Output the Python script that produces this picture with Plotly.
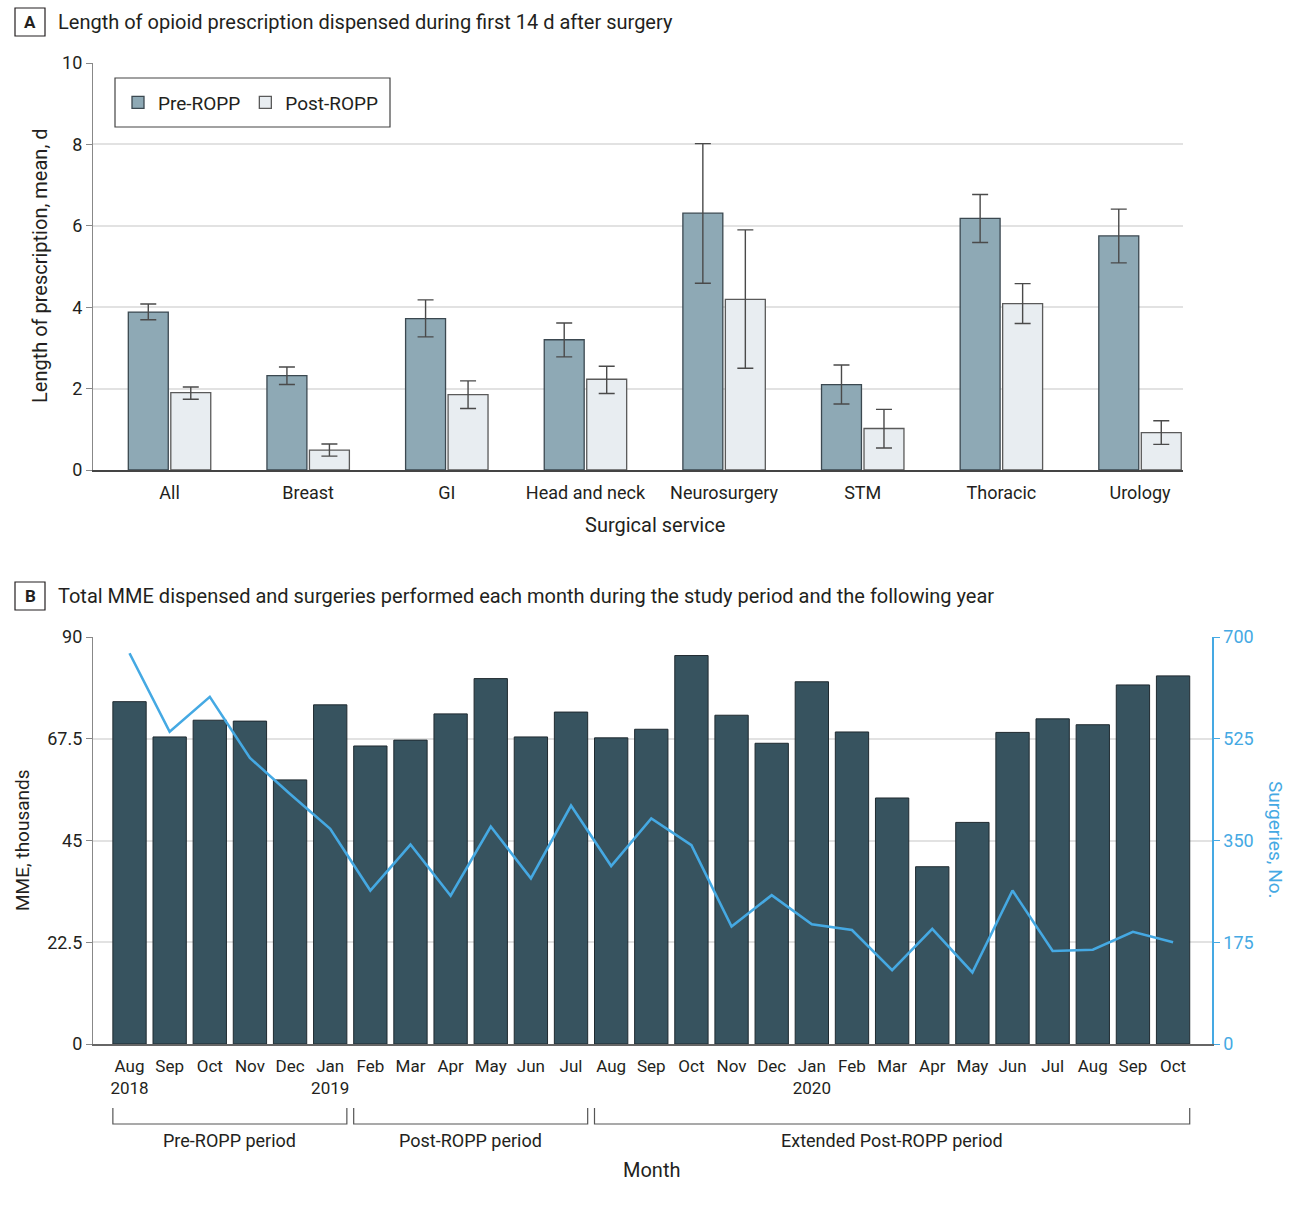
import plotly.graph_objects as go

# ---------------- Data ----------------
services = ["All", "Breast", "GI", "Head and neck", "Neurosurgery", "STM", "Thoracic", "Urology"]
pre_mean = [3.88, 2.32, 3.72, 3.20, 6.31, 2.10, 6.18, 5.75]
pre_lo = [3.69, 2.10, 3.27, 2.78, 4.59, 1.62, 5.59, 5.09]
pre_hi = [4.08, 2.53, 4.18, 3.61, 8.02, 2.58, 6.77, 6.41]
post_mean = [1.90, 0.49, 1.85, 2.23, 4.19, 1.02, 4.09, 0.92]
post_lo = [1.74, 0.34, 1.51, 1.88, 2.50, 0.54, 3.60, 0.63]
post_hi = [2.04, 0.64, 2.19, 2.55, 5.90, 1.49, 4.58, 1.21]

months = ["Aug", "Sep", "Oct", "Nov", "Dec", "Jan", "Feb", "Mar", "Apr", "May", "Jun", "Jul",
          "Aug", "Sep", "Oct", "Nov", "Dec", "Jan", "Feb", "Mar", "Apr", "May", "Jun", "Jul",
          "Aug", "Sep", "Oct"]
year_labels = {0: "2018", 5: "2019", 17: "2020"}
mme_thousands = [75.7, 67.9, 71.6, 71.4, 58.4, 75.0, 65.9, 67.2, 73.0, 80.8, 67.9, 73.4,
                 67.7, 69.6, 85.9, 72.7, 66.5, 80.1, 69.0, 54.4, 39.2, 49.0, 68.9, 71.9,
                 70.6, 79.4, 81.4]
surgeries = [672, 537, 597, 492, 430, 370, 264, 343, 255, 374, 285, 410,
             306, 388, 342, 202, 256, 206, 196, 127, 198, 123, 264, 160,
             162, 193, 175]
periods = [("Pre-ROPP period", 0, 5), ("Post-ROPP period", 6, 11),
           ("Extended Post-ROPP period", 12, 26)]

mme_ticks = [0, 22.5, 45, 67.5, 90]
surg_ticks = [0, 175, 350, 525, 700]

# ---------------- Styling ----------------
W, H = 1300, 1206
FONT = "Roboto, Liberation Sans, sans-serif"
TXT = "#231f20"
BLUE = "#45a9e3"
GRID = "#e2e2e2"


def px(x):
    return x / W


def py(y):
    return 1 - y / H


fig = go.Figure()

fig.add_bar(
    x=services, y=pre_mean, name="Pre-ROPP", xaxis="x", yaxis="y",
    marker=dict(color="#8ea9b5", line=dict(color="#3b4850", width=1.3)),
    error_y=dict(type="data", symmetric=False,
                 array=[h - m for h, m in zip(pre_hi, pre_mean)],
                 arrayminus=[m - l for m, l in zip(pre_mean, pre_lo)],
                 color="#4a4a4a", thickness=1.4, width=8),
)
fig.add_bar(
    x=services, y=post_mean, name="Post-ROPP", xaxis="x", yaxis="y",
    marker=dict(color="#e8edf1", line=dict(color="#5a5a5a", width=1.3)),
    error_y=dict(type="data", symmetric=False,
                 array=[h - m for h, m in zip(post_hi, post_mean)],
                 arrayminus=[m - l for m, l in zip(post_mean, post_lo)],
                 color="#4a4a4a", thickness=1.4, width=8),
)

xi = list(range(len(months)))
fig.add_bar(
    x=xi, y=mme_thousands, xaxis="x2", yaxis="y2", width=0.83, showlegend=False,
    marker=dict(color="#37535f", line=dict(color="#1f2a30", width=1)),
)
fig.add_scatter(
    x=xi, y=surgeries, xaxis="x2", yaxis="y3", mode="lines", showlegend=False,
    line=dict(color=BLUE, width=2.6),
)

ticktext = [m + ("<br>" + year_labels[i] if i in year_labels else "") for i, m in enumerate(months)]

annotations = []
shapes = []


def note(text, x, y, size=20, color=TXT, angle=0, xref="paper", xanchor="center"):
    annotations.append(dict(text=text, x=x, y=y, xref=xref, yref="paper", showarrow=False,
                            xanchor=xanchor, yanchor="middle", textangle=angle,
                            font=dict(size=size, color=color)))


# Panel labels & titles
for letter, y0, y1, title in [
    ("A", 8, 36, "Length of opioid prescription dispensed during first 14 d after surgery"),
    ("B", 582, 610, "Total MME dispensed and surgeries performed each month during the study period and the following year"),
]:
    shapes.append(dict(type="rect", xref="paper", yref="paper", x0=px(15), x1=px(45),
                       y0=py(y1), y1=py(y0), line=dict(color=TXT, width=1.2)))
    note("<b>" + letter + "</b>", px(30), py((y0 + y1) / 2), size=17)
    note(title, px(56), py((y0 + y1) / 2), size=20, xanchor="left")

note("Length of prescription, mean, d", px(40), py(266), size=20, angle=-90)
note("Surgical service", px(655), py(525), size=20)
note("MME, thousands", px(22), py(840), size=19, angle=-90)
note("Surgeries, No.", px(1276), py(840), size=19, color=BLUE, angle=90)
note("Month", px(652), py(1170), size=20)

# legend frame
shapes.append(dict(type="rect", xref="paper", yref="paper", x0=px(115), x1=px(390),
                   y0=py(127), y1=py(78), line=dict(color="#444", width=1.2), layer="above"))

half = 0.83 / 2
for name, a, b in periods:
    x0, x1 = a - half, b + half
    shapes.append(dict(type="path", xref="x2", yref="paper",
                       path=f"M {x0},{py(1108)} L {x0},{py(1124)} L {x1},{py(1124)} L {x1},{py(1108)}",
                       line=dict(color="#555", width=1.2)))
    note(name, (x0 + x1) / 2, py(1140), size=18, xref="x2")

fig.update_layout(
    width=W, height=H,
    margin=dict(l=0, r=0, t=0, b=0, autoexpand=False),
    paper_bgcolor="white", plot_bgcolor="white",
    font=dict(family=FONT, size=18, color=TXT),
    barmode="group", bargap=0.387, bargroupgap=0.06,
    showlegend=True,
    legend=dict(orientation="h", x=px(118), y=py(102.5), xanchor="left", yanchor="middle",
                borderwidth=0, bgcolor="rgba(0,0,0,0)",
                font=dict(size=19, color=TXT), itemwidth=30),
    xaxis=dict(domain=[px(93), px(1183)], anchor="y", range=[-0.552, 7.31], automargin=False,
               showline=True, linecolor="#444", linewidth=1.5, ticks="", showgrid=False,
               tickfont=dict(size=18), ticklabelstandoff=6),
    yaxis=dict(domain=[py(470), py(63)], anchor="x", range=[0, 10], dtick=2, automargin=False,
               showline=True, linecolor="#888", linewidth=1.2, ticks="outside", ticklen=6,
               tickcolor="#888", gridcolor=GRID, gridwidth=1.5, zeroline=False,
               tickfont=dict(size=18)),
    xaxis2=dict(domain=[px(93), px(1212)], anchor="y2", range=[-0.91, 26.97], automargin=False,
                tickmode="array", tickvals=xi, ticktext=ticktext, tickangle=0,
                showline=True, linecolor="#666", linewidth=1.5, ticks="", showgrid=False,
                tickfont=dict(size=17), ticklabelstandoff=6),
    yaxis2=dict(domain=[py(1044), py(637)], anchor="x2", range=[0, 90], automargin=False,
                tickmode="array", tickvals=mme_ticks, ticktext=[f"{t:g}" for t in mme_ticks],
                showline=True, linecolor="#888", linewidth=1.2, ticks="outside", ticklen=6,
                tickcolor="#888", gridcolor=GRID, gridwidth=1.5, zeroline=False,
                tickfont=dict(size=18)),
    yaxis3=dict(overlaying="y2", side="right", anchor="x2", range=[0, 700], automargin=False,
                tickmode="array", tickvals=surg_ticks, showgrid=False, zeroline=False,
                showline=True, linecolor=BLUE, linewidth=1.5, ticks="outside", ticklen=6,
                tickcolor=BLUE, tickfont=dict(size=18, color=BLUE)),
    annotations=annotations, shapes=shapes,
)

fig.write_html("out.html")
